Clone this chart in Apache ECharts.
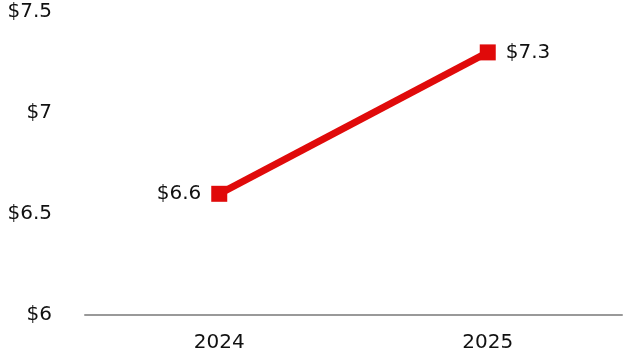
<!DOCTYPE html>
<html>
<head>
<meta charset="utf-8">
<script src="https://cdn.jsdelivr.net/npm/echarts@6/dist/echarts.min.js"></script>
<style>
  html, body { margin: 0; padding: 0; background: #fff; }
  #chart { width: 632px; height: 364px; }
</style>
</head>
<body>
<div id="chart"></div>
<script>
// Datos
const years = ['2024', '2025'];
const values = [6.6, 7.3];
const yTicks = [6, 6.5, 7, 7.5];

var myChart = echarts.init(document.getElementById('chart'));

function money(v) {
    return '$' + v;
}

var font = 'DejaVu Sans';

var option = {
    animation: false,
    grid: { left: 85, right: 10, top: 12, bottom: 49 },
    xAxis: {
        type: 'category',
        data: years,
        axisLine: { lineStyle: { color: '#999', width: 2 } },
        axisTick: { show: false },
        axisLabel: {
            color: '#111',
            fontSize: 20,
            fontFamily: font,
            margin: 18
        }
    },
    yAxis: {
        type: 'value',
        min: yTicks[0],
        max: yTicks[yTicks.length - 1],
        interval: 0.5,
        splitLine: { show: false },
        axisLine: { show: false },
        axisTick: { show: false },
        axisLabel: {
            color: '#111',
            fontSize: 20,
            fontFamily: font,
            margin: 33,
            formatter: money
        }
    },
    series: [{
        type: 'line',
        symbol: 'rect',
        symbolSize: 16,
        lineStyle: { color: '#e00a0a', width: 7 },
        itemStyle: { color: '#e00a0a' },
        label: {
            show: true,
            color: '#111',
            fontSize: 20,
            fontFamily: font,
            distance: 10,
            formatter: function (p) { return money(p.value); }
        },
        // primera etiqueta a la izquierda, segunda a la derecha
        data: values.map(function (v, i) {
            return {
                value: v,
                label: { position: i === 0 ? 'left' : 'right' }
            };
        })
    }]
};

myChart.setOption(option);

window.addEventListener('resize', function () {
    myChart.resize();
});
</script>
</body>
</html>
